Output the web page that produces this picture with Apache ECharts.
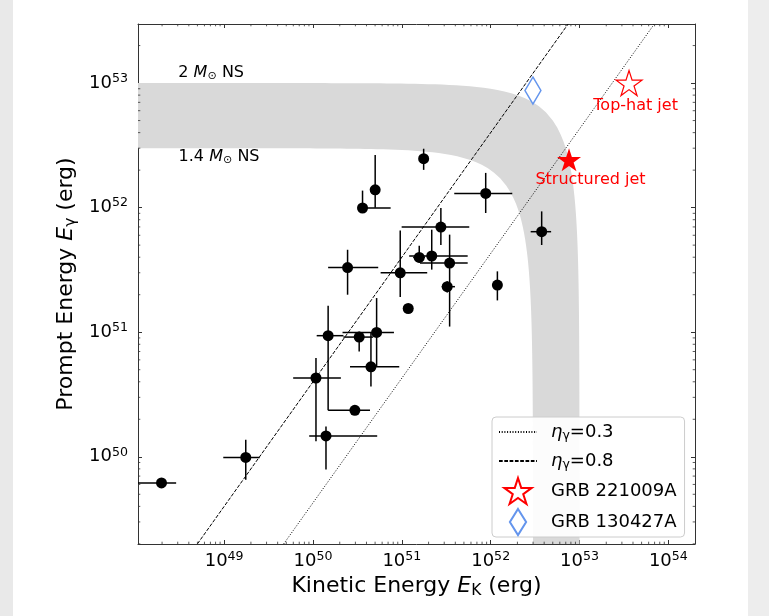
<!DOCTYPE html>
<html><head><meta charset="utf-8">
<script src="https://cdn.jsdelivr.net/npm/echarts@6/dist/echarts.min.js"></script>
<style>
html,body{margin:0;padding:0;background:#fff;}
#wrap{position:relative;width:769px;height:616px;overflow:hidden;background:#fff;}
#lstrip{position:absolute;left:0;top:0;width:13px;height:616px;background:#e9e9e9;}
#rstrip{position:absolute;right:0;top:0;width:21px;height:616px;background:#ededed;}
#chart{position:absolute;left:0;top:0;width:769px;height:616px;}
</style></head><body>
<div id="wrap"><div id="lstrip"></div><div id="rstrip"></div><div id="chart"></div></div>
<script>
// ---------------- data ----------------
// GRB sample: kinetic energy E_K (erg) and prompt energy E_gamma (erg)
const sampleEK   = [1.76e51, 5.01e50, 3.61e50, 8.79e51, 3.75e52, 2.75e51, 1.57e51, 2.17e51, 3.45e51, 3.24e51, 9.59e50, 2.45e50, 1.19e52, 1.18e51, 1.48e50, 3.31e50, 5.20e50, 4.49e50, 2.96e50, 1.08e50, 1.40e50, 1.75e49, 1.97e48];
const sampleEG   = [2.47e52, 1.39e52, 9.93e51, 1.30e52, 6.41e51, 6.98e51, 3.98e51, 4.09e51, 3.59e51, 2.32e51, 3.00e51, 3.30e51, 2.39e51, 1.55e51, 9.38e50, 9.14e50, 9.95e50, 5.28e50, 2.36e50, 4.29e50, 1.47e50, 9.89e49, 6.17e49];
// error-bar extents (null = no bar)
const sampleEKlo = [1.57e51, null, 3.23e50, 3.89e51, 2.82e52, 9.95e50, 1.34e51, 1.21e51, 1.60e51, 2.81e51, 5.77e50, 1.48e50, null, null, 1.10e50, 2.20e50, 2.15e50, 2.61e50, 1.48e50, 5.98e49, 9.06e49, 9.77e48, 1.00e48];
const sampleEKhi = [2.00e51, null, 7.48e50, 1.75e52, 4.79e52, 5.74e51, 1.82e51, 5.51e51, 5.51e51, 3.96e51, 1.93e51, 5.42e50, null, null, 2.20e50, 4.76e50, 8.15e50, 9.35e50, 4.38e50, 2.06e50, 5.28e50, 2.51e49, 2.88e48];
const sampleEGlo = [2.01e52, 1.00e52, 9.93e51, 9.06e51, 5.01e51, 5.01e51, 3.63e51, 3.18e51, 1.11e51, 2.08e51, 1.92e51, 2.00e51, 1.80e51, null, 2.36e50, 7.01e50, 5.31e50, 3.67e50, null, 1.33e50, 7.89e49, 6.55e49, null];
const sampleEGhi = [2.97e52, 2.65e52, 1.37e52, 1.90e52, 9.33e51, 9.93e51, 4.94e51, 6.65e51, 6.07e51, 2.56e51, 6.56e51, 4.59e51, 3.08e51, null, 1.63e51, 1.01e51, 1.88e51, 9.86e50, null, 6.21e50, 1.75e50, 1.37e50, null];

// GRB 221009A: top-hat jet and structured jet estimates
const grb221009A_tophat     = [3.61e53, 1.00e53];
const grb221009A_structured = [7.62e52, 2.42e52];
// GRB 130427A
const grb130427A = [2.99e52, 8.71e52];

// efficiency lines eta_gamma (two end points each: [E_K, E_gamma])
const eta03Line = [[4.68e49, 2.0e49], [7.0e53, 3.0e53]];
const eta08Line = [[5.0e48, 2.0e49], [7.45e52, 2.98e53]];

// neutron-star total energy budgets (erg): E_gamma + E_K = E_NS
const nsEnergy = {ns14: 3.0e52, ns20: 1.0e53};

// axis ranges (log10)
const XMIN = Math.pow(10, 48.03), XMAX = Math.pow(10, 54.30);
const YMIN = Math.pow(10, 49.30), YMAX = Math.pow(10, 53.474);

// annotations [E_K, E_gamma, text]
const annotations = [
  [3.01e48, 1.20e53, '{n|2 }{i|M}{sub|⊙}{n| NS}', 'right'],
  [3.03e48, 2.56e52, '{n|1.4 }{i|M}{sub|⊙}{n| NS}', 'right'],
  [4.28e53, 6.58e52, '{r|Top-hat jet}', 'inside'],
  [1.33e53, 1.68e52, '{r|Structured jet}', 'inside']
];
// ---------------------------------------------------------------

const FONT = 'DejaVu Sans';
const STAR = 'path://M0,-100L22.45,-30.9L95.1,-30.9L36.33,11.8L58.8,80.9L0,38.2L-58.8,80.9L-36.33,11.8L-95.1,-30.9L-22.45,-30.9Z';
const DIAMOND = 'path://M0,-160L100,0L0,160L-100,0Z';

function bandCurve(C) {
  const pts = [];
  const a = Math.log10(XMIN), b = Math.log10(C / 2);
  for (let i = 0; i <= 60; i++) { const ek = Math.pow(10, a + (b - a) * i / 60); pts.push([ek, C - ek]); }
  const c = Math.log10(C / 2), d = Math.log10(YMIN);
  for (let i = 1; i <= 60; i++) { const eg = Math.pow(10, c + (d - c) * i / 60); pts.push([C - eg, eg]); }
  return pts;
}
const bandUpper = bandCurve(nsEnergy.ns20);
const bandLower = bandCurve(nsEnergy.ns14);
const bandPoly = bandUpper.concat(bandLower.slice().reverse());

const minorX = [], minorY = [];
for (let e = 47; e <= 54; e++) for (let m = 2; m <= 9; m++) {
  const v = m * Math.pow(10, e);
  if (v > XMIN && v < XMAX) minorX.push([v, YMIN]);
  if (v > YMIN && v < YMAX) minorY.push([XMIN, v]);
}

function expLabel(v) {
  const e = Math.log10(v), r = Math.round(e);
  if (Math.abs(e - r) > 1e-6) return '';
  return '{b|10}{s|' + r + '}';
}
const tickRich = {
  b: {fontFamily: FONT, fontSize: 18, color: '#000'},
  s: {fontFamily: FONT, fontSize: 12.6, color: '#000', padding: [0, 0, 9, 0]}
};
const nameRich = {
  n: {fontFamily: FONT, fontSize: 22, color: '#000'},
  i: {fontFamily: FONT, fontSize: 22, color: '#000', fontStyle: 'italic'},
  sub: {fontFamily: FONT, fontSize: 15.4, color: '#000', padding: [8, 0, 0, 0]}
};
const AX = '#333';

const errData = sampleEK.map((x, i) => {
  const y = sampleEG[i];
  return [x, y,
    sampleEKlo[i] == null ? x : sampleEKlo[i], sampleEKhi[i] == null ? x : sampleEKhi[i],
    sampleEGlo[i] == null ? y : sampleEGlo[i], sampleEGhi[i] == null ? y : sampleEGhi[i]];
});

const legendNames = {
  eta03: '{i|η}{sub|γ}{n|=0.3}',
  eta08: '{i|η}{sub|γ}{n|=0.8}',
  'GRB 221009A': '{n|GRB 221009A}',
  'GRB 130427A': '{n|GRB 130427A}'
};

const chart = echarts.init(document.getElementById('chart'), null, {renderer: 'canvas'});
const baseX = {type: 'log', logBase: 10, min: XMIN, max: XMAX, splitLine: {show: false}, minorTick: {show: false}};
const baseY = {type: 'log', logBase: 10, min: YMIN, max: YMAX, splitLine: {show: false}, minorTick: {show: false}};
chart.setOption({
  animation: false,
  backgroundColor: 'transparent',
  grid: {left: 138, top: 24, width: 557, height: 520, containLabel: false},
  xAxis: [
    Object.assign({}, baseX, {
      position: 'bottom',
      axisLine: {show: true, lineStyle: {color: AX, width: 1}},
      axisTick: {show: true, inside: true, length: 4, lineStyle: {color: AX, width: 1}},
      axisLabel: {show: true, margin: 6, showMinLabel: false, showMaxLabel: false, formatter: expLabel, rich: tickRich},
      name: '{n|Kinetic Energy }{i|E}{sub|K}{n| (erg)}',
      nameLocation: 'middle', nameGap: 31, nameTextStyle: {rich: nameRich}
    }),
    Object.assign({}, baseX, {
      position: 'top',
      axisLine: {show: true, lineStyle: {color: AX, width: 1}},
      axisTick: {show: true, inside: true, length: 4, lineStyle: {color: AX, width: 1}},
      axisLabel: {show: false}
    })
  ],
  yAxis: [
    Object.assign({}, baseY, {
      position: 'left',
      axisLine: {show: true, lineStyle: {color: AX, width: 1}},
      axisTick: {show: true, inside: true, length: 4, lineStyle: {color: AX, width: 1}},
      axisLabel: {show: true, margin: 10, showMinLabel: false, showMaxLabel: false, formatter: expLabel, rich: tickRich},
      name: '{n|Prompt Energy }{i|E}{sub|γ}{n| (erg)}',
      nameLocation: 'middle', nameRotate: 90, nameGap: 57, nameTextStyle: {rich: nameRich}
    }),
    Object.assign({}, baseY, {
      position: 'right',
      axisLine: {show: true, lineStyle: {color: AX, width: 1}},
      axisTick: {show: true, inside: true, length: 4, lineStyle: {color: AX, width: 1}},
      axisLabel: {show: false}
    })
  ],
  legend: {
    data: [
      {name: 'eta03', itemStyle: {opacity: 0}},
      {name: 'eta08', itemStyle: {opacity: 0}},
      {name: 'GRB 221009A'},
      {name: 'GRB 130427A'}
    ],
    orient: 'vertical', left: 492, top: 417,
    padding: [2, 8, 1, 6], itemGap: 3, itemWidth: 38, itemHeight: 26,
    backgroundColor: 'rgba(255,255,255,0.92)', borderColor: '#cccccc', borderWidth: 1, borderRadius: 4,
    selectedMode: false,
    formatter: n => legendNames[n],
    textStyle: {padding: [0, 0, 0, 9], lineHeight: 26, rich: {
      n: {fontFamily: FONT, fontSize: 18, color: '#000', lineHeight: 26},
      i: {fontFamily: FONT, fontSize: 18, color: '#000', fontStyle: 'italic', lineHeight: 26},
      sub: {fontFamily: FONT, fontSize: 12.6, color: '#000', padding: [7, 0, 0, 0], lineHeight: 26}
    }}
  },
  series: [
    {
      type: 'custom', name: 'band', silent: true, z: 1, clip: true,
      data: bandPoly,
      renderItem(params, api) {
        if (params.dataIndex !== 0) return null;
        const pts = bandPoly.map(p => api.coord(p));
        return {type: 'polygon', shape: {points: pts}, style: {fill: '#d9d9d9', stroke: null}};
      }
    },
    {type: 'line', name: 'eta03', data: eta03Line, symbol: 'none', z: 2, clip: true,
     lineStyle: {color: '#000', width: 1, type: [1, 1.7]}, itemStyle: {color: '#000'}},
    {type: 'line', name: 'eta08', data: eta08Line, symbol: 'none', z: 2, clip: true,
     lineStyle: {color: '#000', width: 1, type: [3.7, 1.6]}, itemStyle: {color: '#000'}},
    {
      type: 'custom', name: 'errors', silent: true, z: 3, clip: true,
      data: errData,
      renderItem(params, api) {
        const x = api.value(0), y = api.value(1);
        const st = {stroke: '#000', lineWidth: 1.5};
        const a = api.coord([api.value(2), y]), b = api.coord([api.value(3), y]);
        const c = api.coord([x, api.value(4)]), d = api.coord([x, api.value(5)]);
        return {type: 'group', children: [
          {type: 'line', shape: {x1: a[0], y1: a[1], x2: b[0], y2: b[1]}, style: st},
          {type: 'line', shape: {x1: c[0], y1: c[1], x2: d[0], y2: d[1]}, style: st}
        ]};
      }
    },
    {type: 'scatter', name: 'sample', data: sampleEK.map((x, i) => [x, sampleEG[i]]), symbol: 'circle', symbolSize: 11, z: 4,
     itemStyle: {color: '#000', opacity: 1}, silent: true},
    {type: 'scatter', name: 'GRB 221009A', data: [grb221009A_tophat], symbol: STAR, symbolSize: [26, 25], z: 5,
     itemStyle: {color: '#ffffff', borderColor: '#ff0000', borderWidth: 1.2, opacity: 1}, silent: true},
    {type: 'scatter', name: 'structured', data: [grb221009A_structured], symbol: STAR, symbolSize: [24, 23], z: 5,
     itemStyle: {color: '#ff0000', opacity: 1}, silent: true},
    {type: 'scatter', name: 'GRB 130427A', data: [grb130427A], symbol: DIAMOND, symbolSize: [16, 27], z: 5,
     itemStyle: {color: '#ffffff', borderColor: '#6495ed', borderWidth: 1.5, opacity: 1}, silent: true},
    {
      type: 'scatter', name: 'annotations', silent: true, z: 6, symbolSize: 1, itemStyle: {color: 'rgba(0,0,0,0)', opacity: 1},
      data: annotations.map(a => ({value: [a[0], a[1]], label: {show: true, position: a[3], distance: 0, formatter: a[2]}})),
      label: {show: true, opacity: 1, rich: {
        n: {fontFamily: FONT, fontSize: 16, color: '#000'},
        i: {fontFamily: FONT, fontSize: 16, color: '#000', fontStyle: 'italic'},
        sub: {fontFamily: FONT, fontSize: 11.2, color: '#000', padding: [6, 0, 0, 0]},
        r: {fontFamily: FONT, fontSize: 16, color: '#ff0000'}
      }}
    },
    {
      type: 'custom', name: 'minorX', silent: true, z: 10, data: minorX,
      renderItem(params, api) {
        const cs = params.coordSys; const x = api.coord([api.value(0), api.value(1)])[0];
        const st = {stroke: AX, lineWidth: 0.8};
        return {type: 'group', children: [
          {type: 'line', shape: {x1: x, y1: cs.y + cs.height, x2: x, y2: cs.y + cs.height - 2.3}, style: st},
          {type: 'line', shape: {x1: x, y1: cs.y, x2: x, y2: cs.y + 2.3}, style: st}
        ]};
      }
    },
    {
      type: 'custom', name: 'minorY', silent: true, z: 10, data: minorY,
      renderItem(params, api) {
        const cs = params.coordSys; const y = api.coord([api.value(0), api.value(1)])[1];
        const st = {stroke: AX, lineWidth: 0.8};
        return {type: 'group', children: [
          {type: 'line', shape: {x1: cs.x, y1: y, x2: cs.x + 2.3, y2: y}, style: st},
          {type: 'line', shape: {x1: cs.x + cs.width, y1: y, x2: cs.x + cs.width - 2.3, y2: y}, style: st}
        ]};
      }
    }
  ]
});
</script>
</body></html>
